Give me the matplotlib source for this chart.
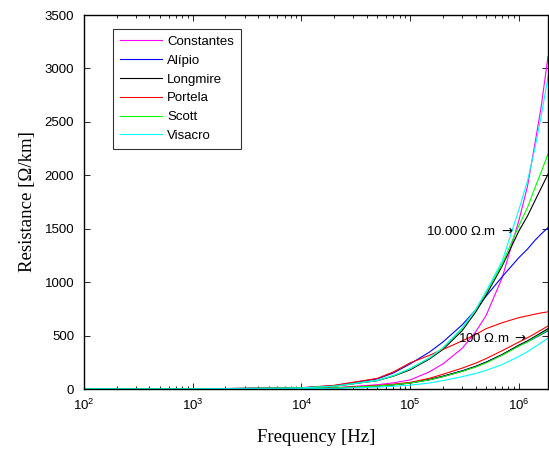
import matplotlib
matplotlib.use("Agg")
import matplotlib.pyplot as plt
from matplotlib.ticker import LogLocator, FixedLocator, NullFormatter

# Frequency samples [Hz]
freq = [1e2, 1e3, 1e4, 2e4, 5e4, 7e4, 1e5, 1.5e5, 2e5, 3e5, 4e5, 5e5, 7e5,
        1e6, 1.2e6, 1.4e6, 1.6e6, 1.85e6]

models = ["Constantes", "Alípio", "Longmire", "Portela", "Scott", "Visacro"]
colors = ["#ff00ff", "#0000ff", "#000000", "#ff0000", "#00ff00", "#00ffff"]

# Resistance [Ohm/km] for soil 10.000 Ohm.m
r_10000 = {
    "Constantes": [0, 0.5, 4, 12, 40, 58, 85, 160, 235, 380, 535, 690, 1040, 1580, 1900, 2290, 2640, 3110],
    "Alípio":     [0, 1, 11, 32, 95, 150, 235, 345, 440, 600, 740, 870, 1050, 1230, 1310, 1390, 1450, 1510],
    "Longmire":   [0, 1, 10, 26, 78, 120, 180, 280, 370, 545, 720, 880, 1150, 1480, 1620, 1760, 1880, 2010],
    "Portela":    [0, 1, 12, 34, 100, 160, 245, 315, 370, 450, 510, 565, 620, 668, 685, 700, 712, 722],
    "Scott":      [0, 1, 10, 26, 80, 125, 190, 290, 385, 565, 740, 905, 1170, 1530, 1700, 1880, 2030, 2200],
    "Visacro":    [0, 1, 10, 26, 80, 125, 190, 290, 385, 570, 745, 915, 1195, 1680, 1950, 2250, 2550, 2920],
}

# Resistance [Ohm/km] for soil 100 Ohm.m
r_100 = {
    "Constantes": [0, 0.2, 3, 8, 26, 38, 55, 85, 115, 165, 210, 250, 320, 410, 450, 490, 525, 560],
    "Alípio":     [0, 0.3, 3, 9, 28, 40, 58, 90, 120, 170, 212, 252, 320, 405, 442, 478, 510, 545],
    "Longmire":   [0, 0.3, 3, 9, 28, 40, 57, 88, 118, 168, 210, 250, 322, 410, 450, 490, 525, 565],
    "Portela":    [0, 0.3, 4, 10, 32, 45, 62, 100, 138, 195, 242, 285, 358, 440, 480, 518, 552, 590],
    "Scott":      [0, 0.3, 3, 9, 28, 39, 56, 86, 115, 165, 206, 245, 316, 402, 442, 482, 515, 552],
    "Visacro":    [0, 0.2, 2, 6, 18, 26, 36, 56, 78, 115, 145, 175, 228, 305, 350, 395, 432, 475],
}

yticks = [0, 500, 1000, 1500, 2000, 2500, 3000, 3500]

fig = plt.figure(figsize=(5.49, 4.53), dpi=100)
ax = fig.add_axes([84/549, 1 - 389/453, 464/549, 374/453])

for m, c in zip(models, colors):
    ax.plot(freq, r_10000[m], color=c, lw=0.8, label=m)
    ax.plot(freq, r_100[m], color=c, lw=0.8)

ax.set_xscale("log")
ax.set_xlim(1e2, 1.85e6)
ax.set_ylim(0, 3500)
ax.yaxis.set_major_locator(FixedLocator(yticks))
ax.xaxis.set_major_locator(LogLocator(base=10, numticks=10))
ax.xaxis.set_minor_locator(LogLocator(base=10, subs=range(2, 10), numticks=20))
ax.xaxis.set_minor_formatter(NullFormatter())

for lab in ax.get_xticklabels() + ax.get_yticklabels():
    lab.set_fontfamily("Liberation Sans")
    lab.set_fontsize(9.5)

ax.tick_params(which="both", direction="in", top=True, right=True, width=0.6)
ax.tick_params(which="major", length=4)
ax.tick_params(which="minor", length=2.5)
ax.tick_params(axis="x", which="major", pad=6)
ax.tick_params(axis="y", which="major", pad=7)
for s in ax.spines.values():
    s.set_linewidth(1.0)

ax.set_xlabel("Frequency [Hz]", family="Liberation Serif", fontsize=13.5, labelpad=12)
ax.set_ylabel("Resistance [Ω/km]", family="Liberation Serif", fontsize=13.5, labelpad=6)

ax.text(8.85e5, 1478, "10.000 Ω.m $\\rightarrow$", ha="right", va="center",
        family="Liberation Sans", fontsize=9.5)
ax.text(1.19e6, 468, "100 Ω.m $\\rightarrow$", ha="right", va="center",
        family="Liberation Sans", fontsize=9.5)

leg = ax.legend(loc="upper left", bbox_to_anchor=((113-84)/464, (389-29)/374),
                borderaxespad=0, frameon=True, fancybox=False, edgecolor="black",
                prop={"family": "Liberation Sans", "size": 9.5},
                handlelength=3.2, handletextpad=0.4, labelspacing=0.5,
                borderpad=0.5)
leg.get_frame().set_linewidth(0.8)

fig.savefig("out.png", dpi=100)
